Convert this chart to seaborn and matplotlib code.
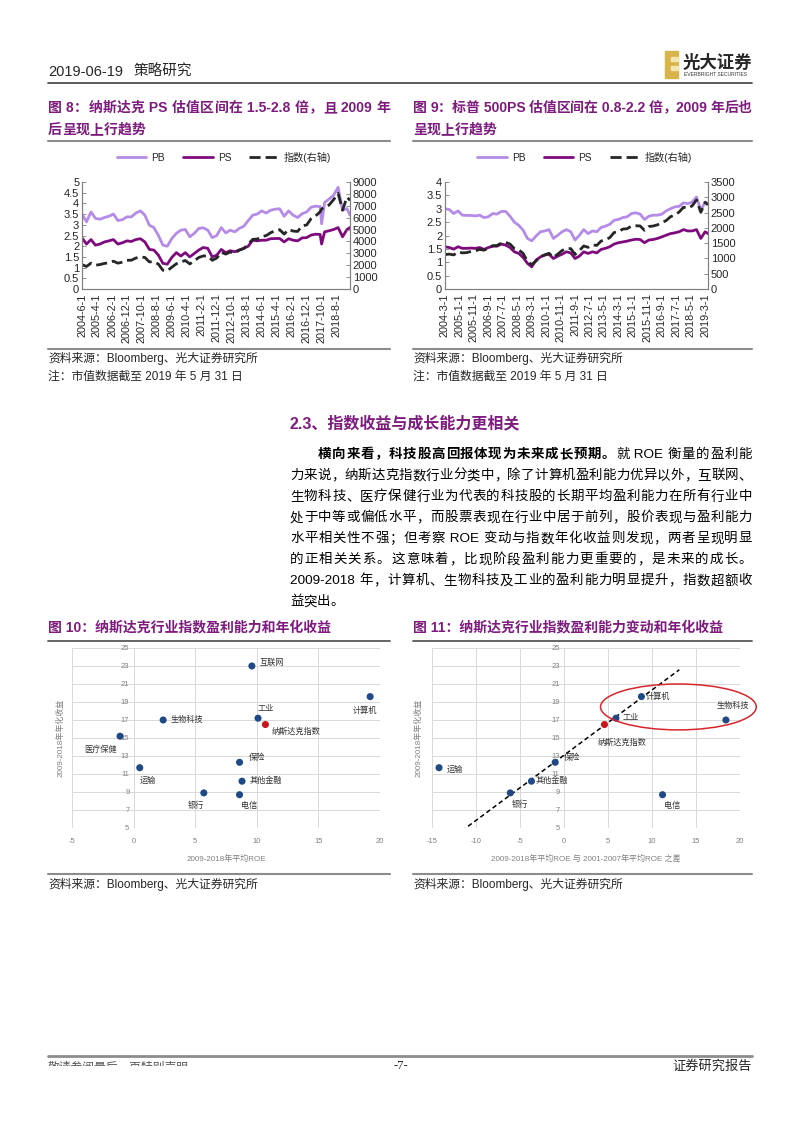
import re
import numpy as np
import pandas as pd
import matplotlib
matplotlib.use('Agg')
import matplotlib.pyplot as plt
import seaborn as sns
from matplotlib.lines import Line2D
from matplotlib.patches import Ellipse, Rectangle

# ---------------- 数据 ----------------
# 图8 纳斯达克 (季度取点)
nasdaq_dates = ['2004-06', '2004-09', '2004-12',
                '2005-03', '2005-06', '2005-09', '2005-12',
                '2006-03', '2006-06', '2006-09', '2006-12',
                '2007-03', '2007-06', '2007-09', '2007-12',
                '2008-03', '2008-06', '2008-09', '2008-12',
                '2009-03', '2009-06', '2009-09', '2009-12',
                '2010-03', '2010-06', '2010-09', '2010-12',
                '2011-03', '2011-06', '2011-09', '2011-12',
                '2012-03', '2012-06', '2012-09', '2012-12',
                '2013-03', '2013-06', '2013-09', '2013-12',
                '2014-03', '2014-06', '2014-09', '2014-12',
                '2015-03', '2015-06', '2015-09', '2015-12',
                '2016-03', '2016-06', '2016-09', '2016-12',
                '2017-03', '2017-06', '2017-09', '2017-10', '2017-12',
                '2018-03', '2018-06', '2018-09', '2018-12',
                '2019-03', '2019-05']
nasdaq_pb = [3.49, 3.14, 3.6,
             3.3, 3.26, 3.34, 3.4,
             3.5, 3.2, 3.24, 3.37,
             3.37, 3.55, 3.65, 3.45,
             2.98, 2.87, 2.5, 2.05,
             2.0, 2.36, 2.6, 2.75,
             2.78, 2.44, 2.6, 2.83,
             2.86, 2.75, 2.4, 2.5,
             2.87, 2.62, 2.75, 2.67,
             2.83, 2.93, 3.2, 3.45,
             3.5, 3.65, 3.55, 3.68,
             3.73, 3.75, 3.4, 3.65,
             3.45, 3.34, 3.52, 3.6,
             3.82, 3.87, 3.85, 3.05, 4.05,
             4.2, 4.38, 4.75, 3.68,
             3.76, 3.45]
nasdaq_ps = [2.39, 2.1, 2.31,
             2.05, 2.1, 2.2, 2.25,
             2.31, 2.1, 2.16, 2.25,
             2.22, 2.31, 2.35, 2.2,
             1.85, 1.82, 1.58, 1.2,
             1.16, 1.48, 1.7, 1.54,
             1.7, 1.5, 1.66, 1.82,
             1.94, 1.9, 1.5, 1.58,
             1.85, 1.7, 1.79, 1.74,
             1.82, 1.9, 2.0, 2.28,
             2.25, 2.28, 2.28, 2.35,
             2.36, 2.36, 2.2, 2.35,
             2.28, 2.25, 2.39, 2.4,
             2.52, 2.56, 2.55, 2.1, 2.67,
             2.72, 2.78, 2.87, 2.44,
             2.78, 2.87]
nasdaq_index = [2048, 1897, 2175,
                1999, 2057, 2152, 2205,
                2340, 2172, 2258, 2415,
                2422, 2603, 2701, 2652,
                2279, 2293, 2092, 1577,
                1529, 1835, 2122, 2269,
                2398, 2109, 2369, 2653,
                2781, 2774, 2415, 2605,
                3091, 2935, 3116, 3020,
                3268, 3403, 3771, 4177,
                4199, 4408, 4493, 4736,
                4901, 4987, 4620, 5007,
                4870, 4843, 5312, 5383,
                5912, 6140, 6496, 6728, 6903,
                7063, 7510, 8046, 6635,
                7729, 7453]

# 图9 标普500
spx_dates = ['2004-03', '2004-06', '2004-09', '2004-12',
             '2005-03', '2005-06', '2005-09', '2005-12',
             '2006-03', '2006-06', '2006-09', '2006-12',
             '2007-03', '2007-06', '2007-09', '2007-12',
             '2008-03', '2008-06', '2008-09', '2008-12',
             '2009-03', '2009-06', '2009-09', '2009-12',
             '2010-03', '2010-06', '2010-09', '2010-12',
             '2011-03', '2011-06', '2011-09', '2011-12',
             '2012-03', '2012-06', '2012-09', '2012-12',
             '2013-03', '2013-06', '2013-09', '2013-12',
             '2014-03', '2014-06', '2014-09', '2014-12',
             '2015-03', '2015-06', '2015-09', '2015-12',
             '2016-03', '2016-06', '2016-09', '2016-12',
             '2017-03', '2017-06', '2017-09', '2017-12',
             '2018-03', '2018-06', '2018-09', '2018-12',
             '2019-03', '2019-05']
spx_pb = [3.0, 2.97, 2.82, 2.92,
          2.76, 2.75, 2.75, 2.73,
          2.76, 2.67, 2.7, 2.82,
          2.8, 2.9, 2.9, 2.72,
          2.5, 2.38, 2.2, 1.89,
          1.8, 1.98, 2.14, 2.17,
          2.22, 1.89, 2.01, 2.14,
          2.22, 2.14, 1.83, 2.01,
          2.22, 2.07, 2.17, 2.14,
          2.3, 2.35, 2.42, 2.57,
          2.6, 2.67, 2.7, 2.82,
          2.85, 2.8, 2.6, 2.72,
          2.76, 2.76, 2.8, 2.92,
          3.0, 3.07, 3.09, 3.22,
          3.19, 3.25, 3.44, 2.94,
          3.25, 3.19]
spx_ps = [1.58, 1.55, 1.49, 1.58,
          1.52, 1.52, 1.53, 1.52,
          1.55, 1.48, 1.55, 1.6,
          1.6, 1.68, 1.64, 1.55,
          1.39, 1.33, 1.18, 0.96,
          0.83, 1.08, 1.2, 1.27,
          1.3, 1.14, 1.23, 1.3,
          1.39, 1.35, 1.14, 1.23,
          1.39, 1.33, 1.39, 1.35,
          1.48, 1.52, 1.58, 1.68,
          1.73, 1.76, 1.79, 1.83,
          1.86, 1.85, 1.73, 1.83,
          1.85, 1.89, 1.95, 2.01,
          2.07, 2.1, 2.14, 2.22,
          2.17, 2.17, 2.22, 1.89,
          2.14, 2.07]
spx_index = [1126, 1141, 1115, 1212,
             1181, 1191, 1229, 1248,
             1295, 1270, 1336, 1418,
             1421, 1503, 1527, 1468,
             1323, 1280, 1166, 903,
             798, 919, 1057, 1115,
             1169, 1031, 1141, 1258,
             1326, 1321, 1131, 1258,
             1408, 1362, 1441, 1426,
             1569, 1606, 1682, 1848,
             1872, 1960, 1972, 2059,
             2068, 2063, 1920, 2044,
             2060, 2099, 2168, 2239,
             2363, 2423, 2519, 2674,
             2641, 2718, 2914, 2507,
             2834, 2752]

# 图10/11 行业散点
industries = ['互联网', '计算机', '工业', '生物科技', '医疗保健',
              '运输', '保险', '其他金融', '银行', '电信']
annual_return = [23.0, 19.6, 17.2, 17.0, 15.2, 11.7, 12.3, 10.2, 8.9, 8.7]
roe_avg = [9.6, 19.2, 10.1, 2.4, -1.1, 0.5, 8.6, 8.8, 5.7, 8.6]
roe_change = [np.nan, 8.8, 5.9, 18.4, np.nan, -14.2, -1.0, -3.7, -6.1, 11.2]
nasdaq_name = '纳斯达克指数'
nasdaq_return = 16.5
nasdaq_roe_avg = 10.7
nasdaq_roe_change = 4.6
fit_members = ['计算机', '工业', '保险', '其他金融', '银行']
trend_range = [-11.6, 13.1]

# ---------------- 样式 ----------------
sns.set_theme(style='white')
plt.rcParams['font.family'] = ['Liberation Sans', 'Noto Sans CJK SC']
plt.rcParams['axes.unicode_minus'] = False

PURPLE = '#7d1b7e'
C_PB = '#b58be8'
C_PS = '#7e0a7e'
C_IDX = '#262626'
C_DOT = '#1f4a86'
C_RED = '#c8161e'
GRAY = '#8c8c8c'

W, H = 802, 1133
fig = plt.figure(figsize=(W / 100, H / 100), dpi=100)
renderer = fig.canvas.get_renderer()


def box(l, t, r, b):
    return [l / W, 1 - b / H, (r - l) / W, (b - t) / H]


def put(x, y, s, **kw):
    kw.setdefault('va', 'center')
    return fig.text(x / W, 1 - y / H, s, **kw)


def hline(x0, x1, y, color=GRAY, lw=1.5):
    fig.add_artist(Line2D([x0 / W, x1 / W], [1 - y / H] * 2, color=color, lw=lw))


def text_line(x0, x1, y, parts, size, color='black', justify=True):
    # 逐字排版, 两端对齐
    items = []
    for s, weight in parts:
        for tok in re.findall(r'[ -~]+|.', s):
            t = put(0, y, tok, fontsize=size, fontweight=weight, color=color)
            items.append((t, t.get_window_extent(renderer).width))
    total = sum(w for _, w in items)
    gap = (x1 - x0 - total) / (len(items) - 1) if justify and len(items) > 1 else 0
    x = x0
    for t, w in items:
        t.set_x(x / W)
        x += w + gap


# ---------------- 页眉 ----------------
put(48, 72, '2019-06-19', fontsize=10.5)
put(134, 72, '策略研究', fontsize=10.5)
hline(48, 752, 83, color='#404040', lw=1.2)
fig.add_artist(Rectangle((665 / W, 1 - 78 / H), 13 / W, 27 / H,
                         transform=fig.transFigure, color='#d9b44a'))
for yy in (57, 66):
    fig.add_artist(Rectangle((671 / W, 1 - (yy + 4) / H), 7 / W, 4 / H,
                             transform=fig.transFigure, color='#f3e4b0'))
put(683, 62, '光大证券', fontsize=12.5, fontweight='bold')
put(684, 75, 'EVERBRIGHT SECURITIES', fontsize=3.6, color='#333333')

# ---------------- 图8 / 图9 标题 ----------------
text_line(48, 390, 108, [('图 8：纳斯达克 PS 估值区间在 1.5-2.8 倍，且 2009 年', 'bold')], 10, PURPLE)
text_line(48, 390, 130, [('后呈现上行趋势', 'bold')], 10, PURPLE, justify=False)
text_line(413, 752, 108, [('图 9：标普 500PS 估值区间在 0.8-2.2 倍，2009 年后也', 'bold')], 10, PURPLE)
text_line(413, 752, 130, [('呈现上行趋势', 'bold')], 10, PURPLE, justify=False)
hline(48, 390, 141)
hline(413, 752, 141)


def line_chart(rect, dates, pb, ps, idx, ylim, ystep, y2lim, y2step, tick_start, n_ticks, xend):
    ax = fig.add_axes(box(*rect))
    d = pd.to_datetime(dates)
    sns.lineplot(x=d, y=pb, ax=ax, color=C_PB, lw=2)
    sns.lineplot(x=d, y=ps, ax=ax, color=C_PS, lw=2)
    ax2 = ax.twinx()
    sns.lineplot(x=d, y=idx, ax=ax2, color=C_IDX, lw=2, linestyle=(0, (4, 1.8)))
    ticks = pd.date_range(tick_start, periods=n_ticks, freq='10MS')
    ax.set_xticks(ticks)
    ax.set_xticklabels([f'{t.year}-{t.month}-1' for t in ticks], rotation=90)
    ax.set_xlim(pd.Timestamp(tick_start), pd.Timestamp(xend))
    ax.set_ylim(*ylim)
    yt = np.arange(ylim[0], ylim[1] + 1e-9, ystep)
    ax.set_yticks(yt)
    ax.set_yticklabels([f'{v:g}' for v in yt])
    ax2.set_ylim(*y2lim)
    ax2.set_yticks(np.arange(y2lim[0], y2lim[1] + 1, y2step))
    for a in (ax, ax2):
        a.set_xlabel('')
        a.set_ylabel('')
        a.grid(False)
        a.spines['top'].set_visible(False)
        for s in ('left', 'right', 'bottom'):
            a.spines[s].set_color('#808080')
            a.spines[s].set_linewidth(0.8)
        a.tick_params(direction='in', length=3, width=0.6, color='#808080',
                      labelsize=8, pad=2)
    ax.tick_params(axis='x', labelsize=7.8, pad=3)
    handles = [Line2D([], [], color=C_PB, lw=2),
               Line2D([], [], color=C_PS, lw=2),
               Line2D([], [], color=C_IDX, lw=2, linestyle=(0, (4, 1.8)))]
    ax.legend(handles, ['PB', 'PS', '指数(右轴)'], loc='center', bbox_to_anchor=(0.53, 1.23),
              ncol=3, frameon=False, fontsize=7.3, handlelength=2.9, columnspacing=1.8,
              handletextpad=0.5)
    return ax


line_chart((82, 182, 350, 289), nasdaq_dates, nasdaq_pb, nasdaq_ps, nasdaq_index,
           (0, 5), 0.5, (0, 9000), 1000, '2004-06-01', 18, '2019-05-01')
line_chart((445, 182, 708, 289), spx_dates, spx_pb, spx_ps, spx_index,
           (0, 4), 0.5, (0, 3500), 500, '2004-03-01', 19, '2019-05-01')

hline(48, 390, 349)
hline(413, 752, 349)
for x0 in (48, 413):
    put(x0, 358, '资料来源：Bloomberg、光大证券研究所', fontsize=8.5)
    put(x0, 377, '注：市值数据截至 2019 年 5 月 31 日', fontsize=8.5)

# ---------------- 正文 ----------------
put(290, 423, '2.3、指数收益与成长能力更相关', fontsize=11.5, fontweight='bold', color=PURPLE)
body = [
    (318, [('横向来看，科技股高回报体现为未来成长预期。', 'bold'), ('就 ROE 衡量的盈利能', 'normal')]),
    (290, [('力来说，纳斯达克指数行业分类中，除了计算机盈利能力优异以外，互联网、', 'normal')]),
    (290, [('生物科技、医疗保健行业为代表的科技股的长期平均盈利能力在所有行业中', 'normal')]),
    (290, [('处于中等或偏低水平，而股票表现在行业中居于前列，股价表现与盈利能力', 'normal')]),
    (290, [('水平相关性不强；但考察 ROE 变动与指数年化收益则发现，两者呈现明显', 'normal')]),
    (290, [('的正相关关系。这意味着，比现阶段盈利能力更重要的，是未来的成长。', 'normal')]),
    (290, [('2009-2018 年，计算机、生物科技及工业的盈利能力明显提升，指数超额收', 'normal')]),
]
for i, (x0, parts) in enumerate(body):
    text_line(x0, 752, 455 + i * 21, parts, 9.7)
text_line(290, 752, 455 + 7 * 21, [('益突出。', 'normal')], 9.7, justify=False)

# ---------------- 图10 / 图11 ----------------
put(48, 627, '图 10：纳斯达克行业指数盈利能力和年化收益', fontsize=10, fontweight='bold', color=PURPLE)
put(413, 627, '图 11：纳斯达克行业指数盈利能力变动和年化收益', fontsize=10, fontweight='bold', color=PURPLE)
hline(48, 390, 641, color='#595959', lw=1.3)
hline(413, 752, 641, color='#595959', lw=1.3)

offsets10 = {'互联网': (20, 3), '计算机': (-5, -14), '工业': (8, 9), '生物科技': (24, 0),
             '医疗保健': (-20, -14), '运输': (8, -13), '保险': (17, 4), '其他金融': (24, 0),
             '银行': (-8, -13), '电信': (10, -11), nasdaq_name: (31, -7)}
offsets11 = {'计算机': (16, 0), '工业': (15, 0), '生物科技': (7, 14), '运输': (16, -2),
             '保险': (17, 4), '其他金融': (20, 0), '银行': (10, -12), '电信': (10, -11),
             nasdaq_name: (18, -18)}


def scatter_chart(rect, xs, nas_x, xlim, xlabel, offsets, ylab_x):
    ax = fig.add_axes(box(*rect))
    df = pd.DataFrame({'x': xs, 'y': annual_return, 'name': industries}).dropna()
    sns.scatterplot(data=df, x='x', y='y', ax=ax, color=C_DOT, s=26, edgecolor='none', zorder=3)
    sns.scatterplot(x=[nas_x], y=[nasdaq_return], ax=ax, color=C_RED, s=26,
                    edgecolor='none', zorder=3)
    names = list(df['name']) + [nasdaq_name]
    px = list(df['x']) + [nas_x]
    py = list(df['y']) + [nasdaq_return]
    for n, x, y in zip(names, px, py):
        ax.annotate(n, (x, y), xytext=offsets[n], textcoords='offset pixels',
                    ha='center', va='center', fontsize=5.9, color='#333333')
    ax.set_xlim(*xlim)
    ax.set_ylim(5, 25)
    ax.set_xticks(np.arange(xlim[0], xlim[1] + 1, 5))
    ax.set_yticks(np.arange(5, 26, 2))
    ax.grid(True, color='#d9d9d9', lw=0.7)
    ax.set_axisbelow(True)
    for s in ax.spines.values():
        s.set_visible(False)
    ax.spines['left'].set_position(('data', 0))
    ax.tick_params(length=0, labelsize=5.5, labelcolor='#808080', pad=3)
    ax.tick_params(axis='x', pad=7)
    ax.set_xlabel(xlabel, fontsize=5.8, color='#808080', labelpad=7)
    ax.set_ylabel('2009-2018年年化收益', fontsize=5.8, color='#808080')
    ax.yaxis.set_label_coords(ylab_x, 0.5)
    return ax


scatter_chart((72, 648, 380, 828), roe_avg, nasdaq_roe_avg, (-5, 20),
              '2009-2018年平均ROE', offsets10, -0.025)
ax4 = scatter_chart((432, 648, 740, 828), roe_change, nasdaq_roe_change, (-15, 20),
                    '2009-2018年平均ROE 与 2001-2007年平均ROE 之差', offsets11, -0.03)

# 拟合线
sel = [industries.index(n) for n in fit_members]
fx = [roe_change[i] for i in sel] + [nasdaq_roe_change]
fy = [annual_return[i] for i in sel] + [nasdaq_return]
k, b = np.polyfit(fx, fy, 1)
ax4.plot(trend_range, [k * v + b for v in trend_range], color='black', lw=1.1,
         linestyle=(0, (3, 2)), zorder=2)
ax4.add_patch(Ellipse((13.0, 18.45), 17.7, 5.1, fill=False, ec='#d7262b', lw=1.1,
                      clip_on=False, zorder=4))

hline(48, 390, 874)
hline(413, 752, 874)
put(48, 884, '资料来源：Bloomberg、光大证券研究所', fontsize=8.5)
put(413, 884, '资料来源：Bloomberg、光大证券研究所', fontsize=8.5)

# ---------------- 页脚 ----------------
hline(48, 752, 1056, color='#8c8c8c', lw=2)
t = put(48, 1068, '敬请参阅最后一页特别声明', fontsize=8.5, color='#555555')
t.set_clip_path(Rectangle((0, 1 - 1066 / H), 1, 10 / H, transform=fig.transFigure))
put(401, 1066, '-7-', fontsize=9, ha='center', family='Liberation Serif')
put(752, 1066, '证券研究报告', fontsize=9.5, ha='right')

fig.savefig('out.png', dpi=100)
plt.close(fig)
